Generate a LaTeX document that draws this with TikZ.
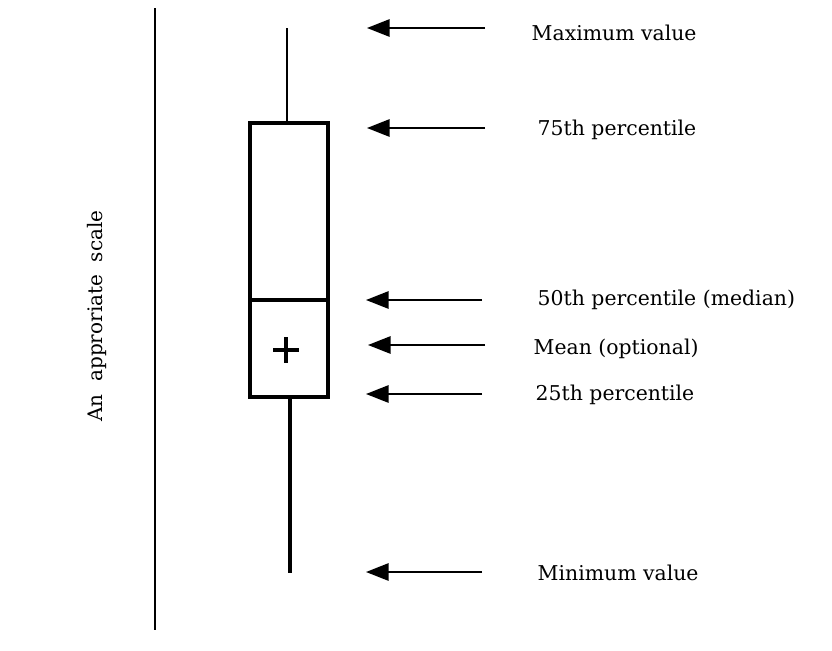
\documentclass[tikz,border=0pt]{standalone}
\usepackage{fontspec}
\setmainfont{DejaVu Serif}
\usetikzlibrary{arrows.meta}
\begin{document}
\begin{tikzpicture}[x=0.75pt,y=-0.75pt]
        \useasboundingbox (0,0) rectangle (832,650);

        % scale line and its text
        \coordinate (s1) at (155,8);
        \coordinate (s2) at (155,630);
        \draw[line width=1.3pt] (s1) -- (s2);
        \node[rotate=90, font=\fontsize{15}{18}\selectfont] (scale) at (97,316) {An~~approriate~~scale};

        % the box
        \begin{scope}[line width=2.6pt]
          \coordinate (q3l) at (250,123);
          \coordinate (q3r) at (328,123);
          \coordinate (q1l) at (250,397);
          \coordinate (q1r) at (328,397);
          \coordinate (mdl) at (250,300);
          \coordinate (mdr) at (328,300);
          \draw (q3l) -- (q3r) -- (q1r) -- (q1l) -- cycle;
          \draw (mdl) -- (mdr);
          \draw[line width=1.5pt] (287,28) coordinate (max) -- (287,123) coordinate (wt);
          \draw (290,397) coordinate (wb) -- (290,573) coordinate (min);
          \coordinate (mean) at (286,350);
          \draw[line width=2.6pt] ([xshift=-9.5pt]mean) -- ([xshift=9.5pt]mean)
                                  ([yshift=-9.5pt]mean) -- ([yshift=9.5pt]mean);
        \end{scope}

        % labels
        \begin{scope}[every node/.style={anchor=west, font=\fontsize{15.3}{18}\selectfont}]
          \node (1) at (527,33)  {Maximum value};
          \node (2) at (533,130) {75th percentile};
          \node (3) at (533,300) {50th percentile (median)};
          \node (4) at (529,349) {Mean (optional)};
          \node (5) at (531,395) {25th percentile};
          \node (6) at (533,573) {Minimum value};
        \end{scope}

        % arrows
        \begin{scope}[every path/.style={draw, line width=1.5pt, -{Triangle[length=17pt,width=13pt]}}]
          \path (485,28)  coordinate (a1) -- (367,28);
          \path (485,128) coordinate (a2) -- (367,128);
          \path (482,300) coordinate (a3) -- (366,300);
          \path (485,345) coordinate (a4) -- (368,345);
          \path (482,394) coordinate (a5) -- (366,394);
          \path (482,572) coordinate (a6) -- (366,572);
        \end{scope}

      \end{tikzpicture}
\end{document}
